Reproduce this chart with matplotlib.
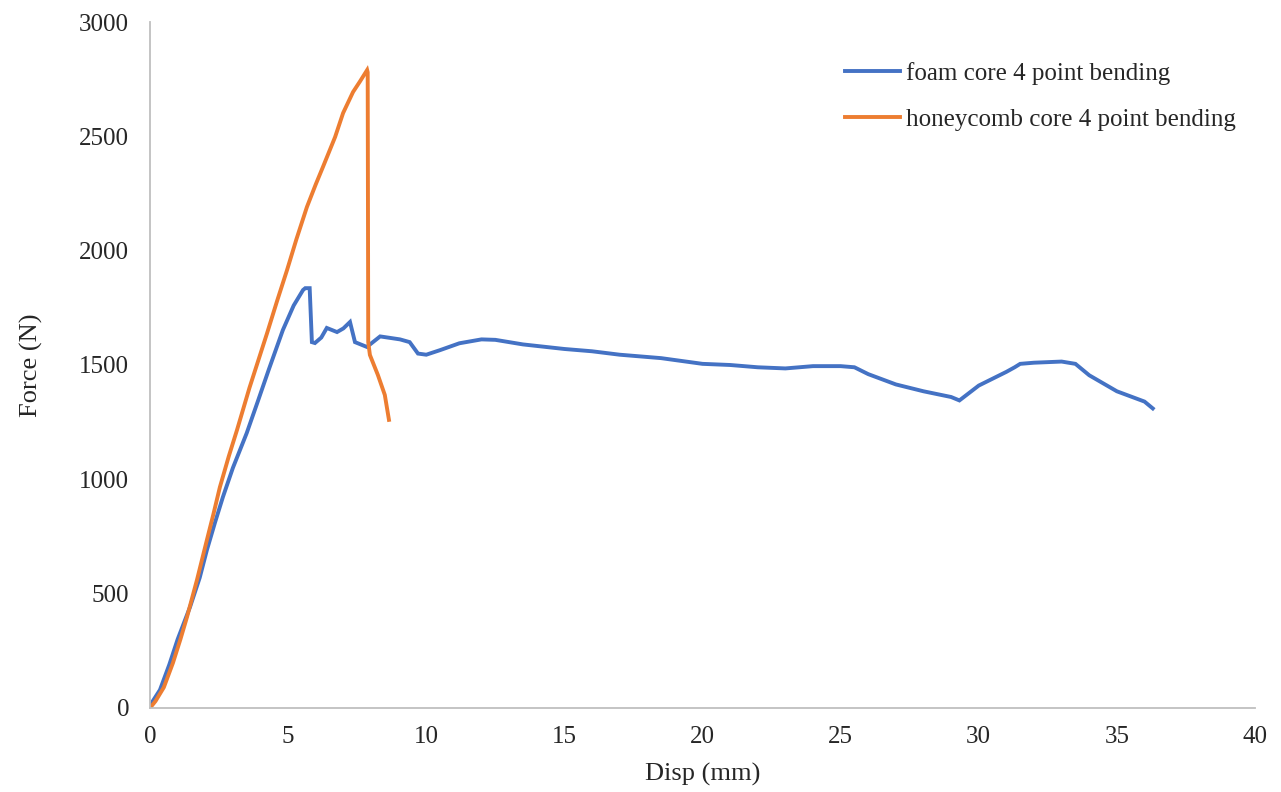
import matplotlib
matplotlib.use("Agg")
import matplotlib.pyplot as plt

plt.rcParams['font.family'] = ['Liberation Serif', 'DejaVu Serif']

# Foam core 4 point bending (Disp mm, Force N)
foam_x = [0.0, 0.1, 0.36, 0.7, 1.0, 1.45, 1.8, 2.06, 2.35, 2.64, 3.0, 3.5, 3.9, 4.3, 4.81, 5.2, 5.54, 5.62, 5.78,
          5.86, 5.97, 6.2, 6.4, 6.77, 7.0, 7.24, 7.42, 7.85, 8.33, 9.05, 9.4, 9.7, 10.0, 10.5, 11.2, 12.0,
          12.5, 13.5, 15.0, 16.0, 17.0, 18.5, 20.0, 21.0, 22.0, 23.0, 24.0, 25.0, 25.5, 26.0, 27.0, 28.0,
          29.0, 29.3, 30.0, 31.0, 31.3, 31.5, 32.0, 33.0, 33.5, 34.0, 35.0, 36.0, 36.3]
foam_y = [0, 30, 79, 190, 300, 442, 570, 691, 810, 923, 1050, 1202, 1340, 1480, 1653, 1760, 1828, 1836, 1836,
          1600, 1596, 1620, 1662, 1644, 1660, 1688, 1600, 1579, 1625, 1612, 1600, 1550, 1545, 1565, 1595, 1612,
          1610, 1590, 1570, 1560, 1545, 1530, 1505, 1500, 1490, 1485, 1495, 1495, 1490, 1460, 1415, 1385,
          1360, 1345, 1410, 1470, 1490, 1505, 1510, 1515, 1505, 1455, 1385, 1340, 1310]

# Honeycomb core 4 point bending
honey_x = [0.0, 0.2, 0.5, 0.83, 1.1, 1.34, 1.7, 2.06, 2.3, 2.53, 2.85, 3.15, 3.6, 4.24, 4.6, 4.96, 5.3, 5.68,
           6.0, 6.26, 6.7, 6.99, 7.35, 7.6, 7.86, 7.88, 7.9, 7.96, 8.25, 8.5, 8.65]
honey_y = [0, 30, 90, 197, 300, 398, 560, 735, 850, 966, 1100, 1216, 1400, 1640, 1780, 1915, 2050, 2191,
           2290, 2366, 2497, 2602, 2694, 2740, 2790, 2780, 1600, 1544, 1456, 1369, 1260]

series_labels = ['foam core 4 point bending', 'honeycomb core 4 point bending']
x_ticks = [0, 5, 10, 15, 20, 25, 30, 35, 40]
y_ticks = [0, 500, 1000, 1500, 2000, 2500, 3000]

fig = plt.figure(figsize=(12.81, 7.92), dpi=100)
ax = fig.add_axes([0.1171, 0.1061, 0.8626, 0.8661])

ax.plot(foam_x, foam_y, color='#4472C4', lw=2.8, label=series_labels[0], solid_joinstyle='miter')
ax.plot(honey_x, honey_y, color='#ED7D31', lw=2.8, label=series_labels[1], solid_joinstyle='miter')

ax.set_xlim(0, 40)
ax.set_ylim(0, 3000)
ax.set_xticks(x_ticks)
ax.set_yticks(y_ticks)
ax.tick_params(axis='both', length=0, labelsize=18, colors='#262626')
ax.tick_params(axis='y', pad=15)
ax.tick_params(axis='x', pad=13)

for s in ['top', 'right']:
    ax.spines[s].set_visible(False)
for s in ['left', 'bottom']:
    ax.spines[s].set_color('#bfbfbf')
    ax.spines[s].set_linewidth(1.3)

ax.set_xlabel('Disp (mm)', fontsize=19, color='#262626', labelpad=11)
ax.set_ylabel('Force (N)', fontsize=19, color='#262626', labelpad=26)

leg = fig.legend(loc='upper left', bbox_to_anchor=(845 / 1281, 1 - 62 / 792), frameon=False, fontsize=18,
                 handlelength=2.2, handletextpad=0.25, labelspacing=0.95, labelcolor='#262626',
                 borderpad=0, borderaxespad=0)

fig.savefig('out.png', dpi=100)
